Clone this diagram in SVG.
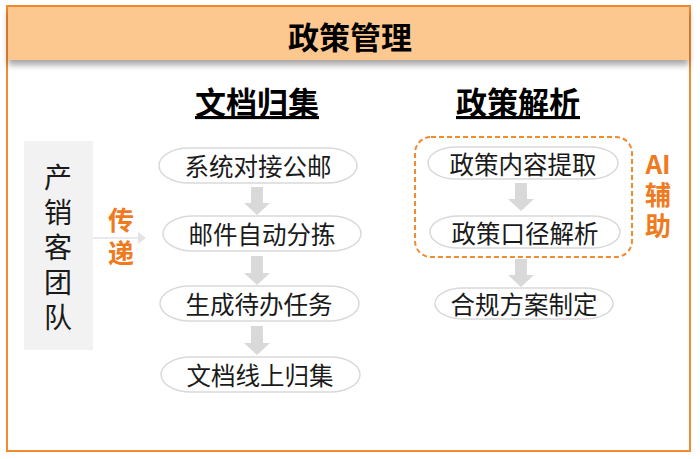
<svg xmlns="http://www.w3.org/2000/svg" width="700" height="459" viewBox="0 0 700 459">
<defs>
<style>
.frame{fill:#fff;stroke:#F28A30;stroke-width:2}
.band{fill:#FDC88F}
.pill{fill:#fff;stroke:#D9D9D9;stroke-width:1.5}
.ntxt{font-family:"Microsoft YaHei","Noto Sans CJK SC",sans-serif;font-size:24.5px;fill:#1a1a1a;text-anchor:middle;dominant-baseline:central}
.title{font-family:"Noto Sans CJK SC",sans-serif;font-weight:bold;font-size:31px;fill:#000;text-anchor:middle;text-decoration:underline}
.orange{font-family:"Noto Sans CJK SC",sans-serif;font-weight:bold;font-size:26px;fill:#F07A1E;text-anchor:middle;dominant-baseline:central}
.vtxt{font-family:"Noto Sans CJK SC",sans-serif;font-size:28px;fill:#1a1a1a;text-anchor:middle}
.garrow{fill:#D9D9D9}
</style>
<filter id="sh" x="-5%" y="-20%" width="110%" height="160%">
<feDropShadow dx="0" dy="5" stdDeviation="3" flood-color="#000" flood-opacity="0.35"/>
</filter>
</defs>
<rect class="frame" x="7" y="6" width="683" height="445"/>
<g id="header">
<rect class="band" x="8" y="7" width="681" height="53" filter="url(#sh)"/>
<text x="350" y="35" font-family="Noto Sans CJK SC,sans-serif" font-weight="bold" font-size="31" text-anchor="middle" dominant-baseline="central" fill="#000">政策管理</text>
</g>
<text class="title" x="257" y="114">文档归集</text>
<text class="title" x="518" y="114">政策解析</text>
<g id="team">
<rect x="24" y="141" width="69" height="209" fill="#F2F2F2"/>
<text class="vtxt" x="58" y="251" writing-mode="vertical-rl" letter-spacing="7">产销客团队</text>
</g>
<g id="connectors">
<line x1="93" y1="238" x2="140" y2="238" stroke="#E3E3E3" stroke-width="1.5"/>
<polygon points="138,232 146,238 138,244" fill="#E3E3E3"/>
<polygon class="garrow" points="251,187 263,187 263,203 270,203 257,215 244,203 251,203"/>
<polygon class="garrow" points="251,256 263,256 263,273 270,273 257,285 244,273 251,273"/>
<polygon class="garrow" points="251,326 263,326 263,343 270,343 257,355 244,343 251,343"/>
<polygon class="garrow" points="515,183 527,183 527,199 534,199 521,211 508,199 515,199"/>
<polygon class="garrow" points="515,259 527,259 527,275 534,275 521,287 508,275 515,275"/>
</g>
<text class="orange" x="121" y="240" writing-mode="vertical-rl" letter-spacing="7">传递</text>
<g id="n1"><rect class="pill" x="159" y="148" width="198" height="35" rx="30" ry="17.5"/><text class="ntxt" x="258" y="165">系统对接公邮</text></g>
<g id="n2"><rect class="pill" x="163" y="216" width="198" height="35" rx="30" ry="17.5"/><text class="ntxt" x="262" y="233">邮件自动分拣</text></g>
<g id="n3"><rect class="pill" x="160" y="286" width="199" height="35" rx="30" ry="17.5"/><text class="ntxt" x="259" y="303">生成待办任务</text></g>
<g id="n4"><rect class="pill" x="161" y="357" width="199" height="35" rx="30" ry="17.5"/><text class="ntxt" x="260" y="374">文档线上归集</text></g>
<g id="ai-group"><rect x="415" y="137" width="217" height="120" rx="16" fill="none" stroke="#F28A30" stroke-width="2" stroke-dasharray="5,3"/></g>
<g id="n5"><rect class="pill" x="428" y="147" width="190" height="32" rx="28" ry="16"/><text class="ntxt" x="523" y="163">政策内容提取</text></g>
<g id="n6"><rect class="pill" x="430" y="216" width="190" height="32" rx="28" ry="16"/><text class="ntxt" x="525" y="232">政策口径解析</text></g>
<g id="n7"><rect class="pill" x="435" y="288" width="178" height="31" rx="28" ry="15.5"/><text class="ntxt" x="524" y="303">合规方案制定</text></g>
<text class="orange" x="658" y="162">AI</text>
<text class="orange" x="658" y="213" writing-mode="vertical-rl" letter-spacing="5">辅助</text>
</svg>
